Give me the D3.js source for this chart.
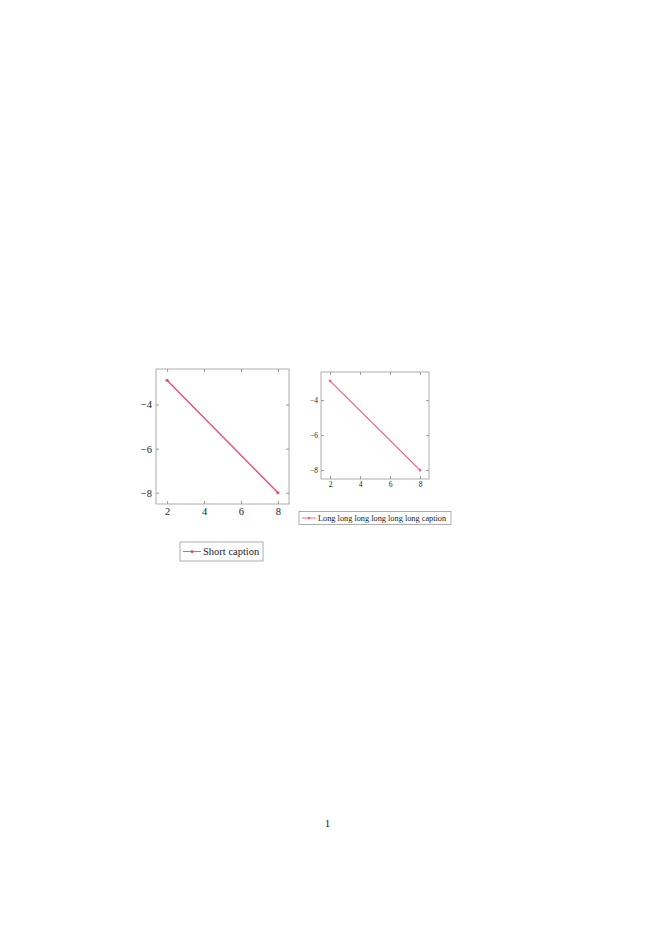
<!DOCTYPE html>
<html>
<head>
<meta charset="utf-8">
<script src="https://cdn.jsdelivr.net/npm/d3@7"></script>
<style>
  body { margin: 0; background: #fff; }
  svg { display: block; }
  .tick line { stroke: #999; }
  .domain { display: none; }
</style>
</head>
<body>
<svg id="page" width="655" height="926"></svg>
<script>
// data for both plots (same series)
const xValues = [2, 8];
const yValues = [-2.9, -8];
const xTicks = [2, 4, 6, 8];
const yTicks = [-4, -6, -8];
const captions = ["Short caption", "Long long long long long long caption"];

const serif = "'Liberation Serif', 'DejaVu Serif', serif";
var svg = d3.select("#page");

// pgfplots style: 10% enlarged limits
function enlarged(ext) {
    var pad = (ext[1] - ext[0]) * 0.1;
    return [ext[0] - pad, ext[1] + pad];
}

function drawPlot(opt) {
    var g = svg.append("g").attr("transform", "translate(" + opt.left + "," + opt.top + ")");

    var x = d3.scaleLinear().domain(enlarged(d3.extent(xValues))).range([0, opt.w]);
    var y = d3.scaleLinear().domain(enlarged(d3.extent(yValues))).range([opt.h, 0]);

    // bottom / left axes with labels, ticks point inward
    g.append("g").attr("transform", "translate(0," + opt.h + ")")
        .call(d3.axisBottom(x).tickValues(xTicks).tickSize(-3).tickPadding(opt.pad).tickFormat(d3.format("d")));
    g.append("g")
        .call(d3.axisLeft(y).tickValues(yTicks).tickSize(-3).tickPadding(opt.pad)
            .tickFormat(d => "\u2212" + Math.abs(d)));
    g.append("g").call(d3.axisTop(x).tickValues(xTicks).tickSize(-3).tickFormat(""));
    g.append("g").attr("transform", "translate(" + opt.w + ",0)")
        .call(d3.axisRight(y).tickValues(yTicks).tickSize(-3).tickFormat(""));
    g.selectAll(".tick text")
        .style("font-family", serif)
        .style("font-size", opt.font + "px")
        .attr("fill", "#222");

    g.append("rect")
        .attr("width", opt.w)
        .attr("height", opt.h)
        .attr("fill", "none")
        .attr("stroke", "#999")
        .attr("stroke-width", 0.8);

    var pts = xValues.map((d, i) => [d, yValues[i]]);
    g.append("path")
        .attr("d", d3.line().x(d => x(d[0])).y(d => y(d[1]))(pts))
        .attr("fill", "none")
        .attr("stroke", opt.color)
        .attr("stroke-width", opt.lw);
    g.selectAll(".mark").data(pts).enter().append("circle")
        .attr("cx", d => x(d[0]))
        .attr("cy", d => y(d[1]))
        .attr("r", opt.r)
        .attr("fill", opt.color);

    // legend
    var lg = svg.append("g").attr("transform", "translate(" + opt.legX + "," + opt.legY + ")");
    lg.append("rect")
        .attr("width", opt.legW)
        .attr("height", opt.legH)
        .attr("fill", "#fff")
        .attr("stroke", "#999")
        .attr("stroke-width", 0.8);
    lg.append("line")
        .attr("x1", 3).attr("x2", opt.legLine + 3)
        .attr("y1", opt.legH / 2).attr("y2", opt.legH / 2)
        .attr("stroke", opt.color).attr("stroke-width", 0.9);
    lg.append("circle")
        .attr("cx", 3 + opt.legLine / 2).attr("cy", opt.legH / 2)
        .attr("r", opt.r).attr("fill", opt.color);
    lg.append("text")
        .attr("x", opt.legLine + 5)
        .attr("y", opt.legH / 2)
        .attr("dy", "0.35em")
        .style("font-family", serif)
        .style("font-size", opt.legFont + "px")
        .attr("fill", "#222")
        .text(opt.caption);
}

drawPlot({
    left: 156, top: 369, w: 133, h: 135, pad: 4, font: 10.5,
    color: "#e8506a", lw: 1.4, r: 1.6,
    legX: 180, legY: 542, legW: 83, legH: 19, legLine: 18, legFont: 10.5,
    caption: captions[0]
});

drawPlot({
    left: 321, top: 372, w: 108, h: 107, pad: 3, font: 7.5,
    color: "#f0607a", lw: 1.2, r: 1.3,
    legX: 299, legY: 511.5, legW: 152, legH: 13, legLine: 14, legFont: 8.3,
    caption: captions[1]
});

// page number
svg.append("text")
    .attr("x", 327.5)
    .attr("y", 827)
    .attr("text-anchor", "middle")
    .style("font-family", serif)
    .style("font-size", "11px")
    .attr("fill", "#222")
    .text("1");
</script>
</body>
</html>
